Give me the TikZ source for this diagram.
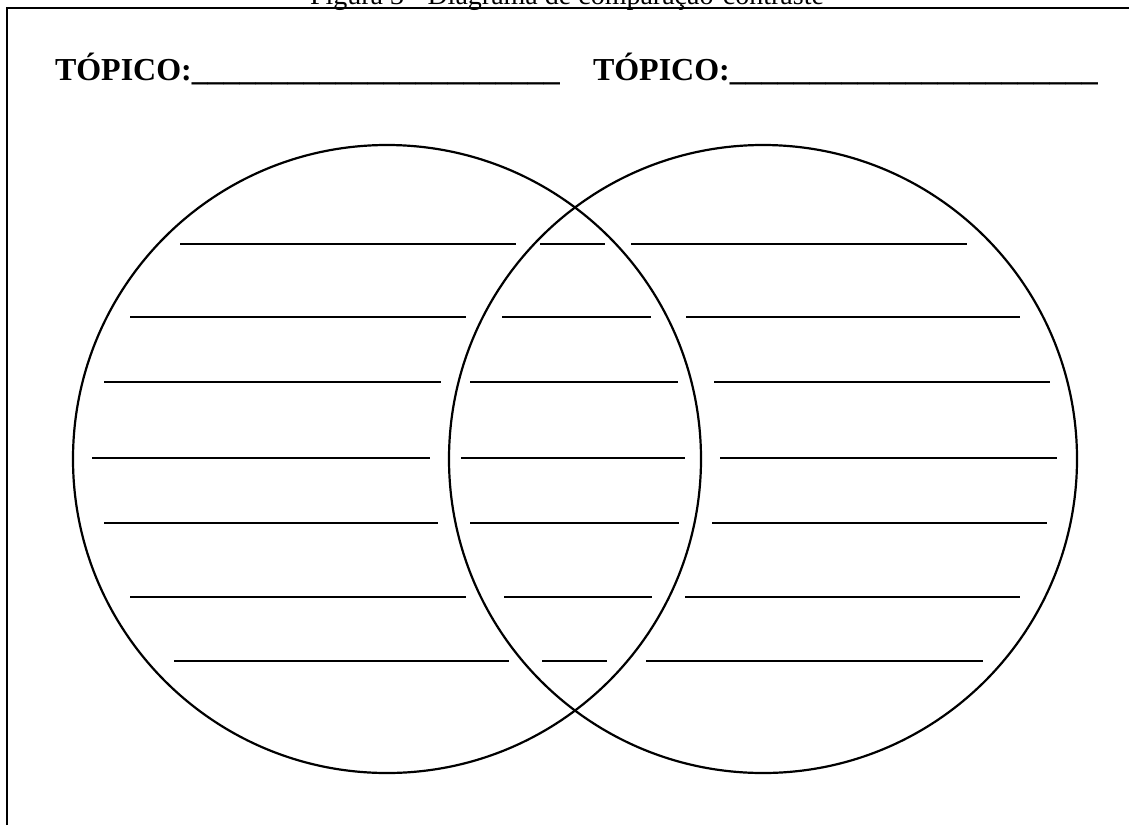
\documentclass[tikz,border=0pt]{standalone}
\usepackage{fontspec}
\setmainfont{Liberation Serif}
\newcommand{\linha}{\_\_\_\_\_\_\_\_\_\_\_\_\_\_\_\_\_\_\_\_\_\_\_}
\begin{document}
\begin{tikzpicture}[x=1pt,y=-1pt,line width=2pt,
    every node/.style={inner sep=0pt,anchor=base west},
    venn/.style={circle,draw,anchor=center,line width=2.2pt,minimum size=628pt}]
    \useasboundingbox (0,0) rectangle (1129,825);
    % moldura
    \draw (6.5,825) -- (6.5,7.5) -- (1129,7.5);
    \node[anchor=base,font=\fontsize{28}{30}\selectfont] (legenda) at (567,4.5) {Figura 3 - Diagrama de comparação-contraste};
    \node[font=\bfseries\fontsize{32}{36}\selectfont] (topicoA) at (54,80) {TÓPICO:\linha};
    \node[font=\bfseries\fontsize{32}{36}\selectfont] (topicoB) at (592,80) {TÓPICO:\linha};
    % os dois conjuntos
    \node[venn] (setA) at (387,459) {};
    \node[venn] (setB) at (763,459) {};
    % linhas para escrever
    \draw (180,244) -- (516,244) (540,244) -- (605,244) (631,244) -- (967,244);
    \draw (130,317) -- (466,317) (502,317) -- (651,317) (686,317) -- (1020,317);
    \draw (104,382) -- (441,382) (470,382) -- (678,382) (714,382) -- (1050,382);
    \draw (92,458) -- (430,458) (461,458) -- (685,458) (720,458) -- (1057,458);
    \draw (104,523) -- (438,523) (470,523) -- (679,523) (712,523) -- (1047,523);
    \draw (130,597) -- (466,597) (504,597) -- (652,597) (685,597) -- (1020,597);
    \draw (174,661) -- (509,661) (542,661) -- (607,661) (646,661) -- (983,661);
\end{tikzpicture}
\end{document}
